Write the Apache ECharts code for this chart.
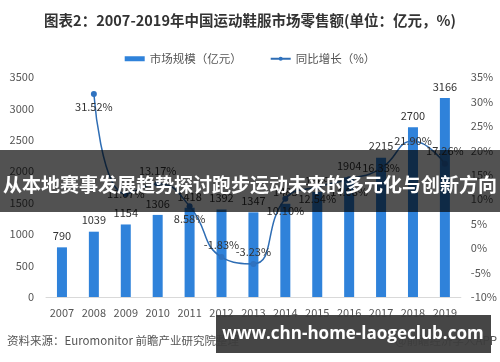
<!DOCTYPE html>
<html><head><meta charset="utf-8">
<script src="https://cdn.jsdelivr.net/npm/echarts@6/dist/echarts.min.js"></script>
<style>html,body{margin:0;padding:0;background:#fff}#c{width:500px;height:362px}</style>
</head><body><div id="c"></div>
<script>
var years = ['2007','2008','2009','2010','2011','2012','2013','2014','2015','2016','2017','2018','2019'];
var marketSize = [790,1039,1154,1306,1418,1392,1347,1483,1669,1904,2215,2700,3166];
var growth = [null,31.52,11.07,13.17,8.58,-1.83,-3.23,10.10,12.54,14.08,16.33,21.90,17.26];
var growthLabelPos = [null,'bottom','inside','top','bottom','top','top','bottom','bottom','bottom','inside','inside','top'];

var chart = echarts.init(document.getElementById('c'));
var F = '"Noto Sans CJK SC","Noto Sans",sans-serif';
var lineData = growth.map(function(v,i){
  if (v === null) return null;
  return {value: v, label: {position: growthLabelPos[i], distance: growthLabelPos[i]==='inside'?0:4}};
});
chart.setOption({
  animation: false,
  title: {text: '图表2：2007-2019年中国运动鞋服市场零售额(单位：亿元，%)', left: 'center', top: 8,
    textStyle: {fontFamily: F, fontSize: 14.5, fontWeight: 'bold', color: '#333'}},
  legend: {top: 48, left: 'center', itemWidth: 20, itemHeight: 5, itemGap: 28,
    textStyle: {fontFamily: F, fontSize: 11.5, color: '#555'},
    data: [{name: '市场规模（亿元）', icon: 'rect'}, {name: '同比增长（%）'}]},
  grid: {left: 46, right: 39, top: 77, bottom: 65},
  xAxis: {type: 'category', data: years,
    axisLine: {lineStyle: {color: '#d9d9d9'}}, axisTick: {show: false},
    axisLabel: {fontFamily: F, fontSize: 11, color: '#555', margin: 10}},
  yAxis: [
    {type: 'value', min: 0, max: 3500, interval: 500, splitLine: {show: false},
     axisLabel: {fontFamily: F, fontSize: 11, color: '#555', margin: 12, formatter: function(v){return String(v);}}},
    {type: 'value', min: -10, max: 35, interval: 5, splitLine: {show: false},
     axisLabel: {fontFamily: F, fontSize: 11, color: '#555', margin: 10, formatter: '{value}%'}}
  ],
  series: [
    {name: '市场规模（亿元）', type: 'bar', data: marketSize, barWidth: 10,
     itemStyle: {color: '#2F82DA'},
     label: {show: true, position: 'top', distance: 6, fontFamily: F, fontSize: 11, color: '#333'}},
    {name: '同比增长（%）', type: 'line', yAxisIndex: 1, data: lineData, smooth: true,
     symbol: 'circle', symbolSize: 6, showAllSymbol: true,
     lineStyle: {color: '#2E6DB4', width: 1.5}, itemStyle: {color: '#2E72C0'},
     label: {show: true, fontFamily: F, fontSize: 11, color: '#333', formatter: function(p){return p.value.toFixed(2)+'%';}}}
  ],
  graphic: [
    {type: 'text', left: 7, top: 335, z: 100,
     style: {text: '资料来源：Euromonitor 前瞻产业研究院整理', fontFamily: F, fontSize: 11.5, fill: '#555'}},
    {type: 'text', right: 3, top: 335, z: 100,
     style: {text: '@前瞻经济学人APP', fontFamily: F, fontSize: 11.5, fill: '#555'}},
    {type: 'rect', shape: {x: 0, y: 150, width: 500, height: 62}, z: 200,
     style: {fill: 'rgba(0,0,0,0.68)'}},
    {type: 'text', x: 250, y: 185, z: 201,
     style: {text: '从本地赛事发展趋势探讨跑步运动未来的多元化与创新方向', fontFamily: F, fontSize: 19, fontWeight: 'bold',
       fill: '#fff', align: 'center', verticalAlign: 'middle'}},
    {type: 'rect', shape: {x: 216, y: 315, width: 275, height: 38}, z: 200,
     style: {fill: 'rgba(60,60,60,0.95)'}},
    {type: 'text', x: 353, y: 334, z: 201,
     style: {text: 'www.chn-home-laogeclub.com', fontFamily: '"Open Sans","DejaVu Sans",sans-serif', fontSize: 17, fontWeight: 'bold',
       fill: '#fff', align: 'center', verticalAlign: 'middle'}}
  ]
});
</script></body></html>
